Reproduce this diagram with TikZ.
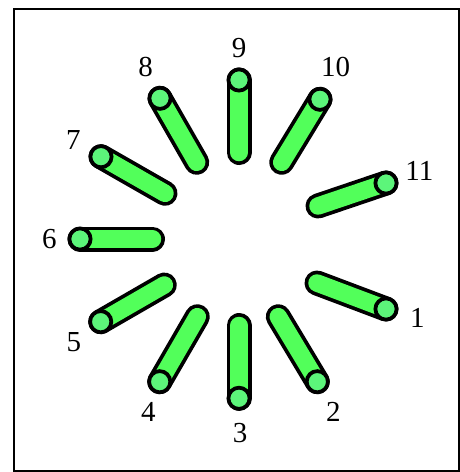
\documentclass[tikz,border=0pt]{standalone}
\usepackage{fontspec}
\setmainfont{Liberation Serif}
\definecolor{bodygreen}{RGB}{82,255,90}
\definecolor{capgreen}{RGB}{92,245,122}
\begin{document}
\begin{tikzpicture}[x=1pt,y=-1pt,
  lab/.style={font=\fontsize{29}{30}\selectfont, inner sep=0pt, anchor=center},
  frame/.style={line width=2pt},
  outline/.style={line width=25pt, line cap=round, draw=black},
  core/.style={line width=17.5pt, line cap=round, draw=bodygreen},
  endcap/.style={line width=3.75pt, draw=black, fill=capgreen}]
\useasboundingbox (0,0) rectangle (459,472);
\draw[frame] (14,8.5) rectangle (458.5,471);
% outer (o) and inner (i) cap centres
\coordinate (o1) at (386,309);   \coordinate (i1) at (317,283);
\coordinate (o2) at (317.3,381.7); \coordinate (i2) at (278.3,316.7);
\coordinate (o3) at (239,398.3); \coordinate (i3) at (239,325.5);
\coordinate (o4) at (159.7,381.7); \coordinate (i4) at (197.3,316.7);
\coordinate (o5) at (100.7,321.7); \coordinate (i5) at (164.3,285);
\coordinate (o6) at (80,239);    \coordinate (i6) at (152.5,239);
\coordinate (o7) at (101,156.7); \coordinate (i7) at (165,193.3);
\coordinate (o8) at (160,98.3);  \coordinate (i8) at (196.7,162.3);
\coordinate (o9) at (239,80);    \coordinate (i9) at (239,152.5);
\coordinate (o10) at (320,99.3); \coordinate (i10) at (281.7,162.3);
\coordinate (o11) at (386,183);  \coordinate (i11) at (318,206);
\foreach \n in {1,...,11}{
  \draw[outline] (o\n) -- (i\n);
  \draw[core] (o\n) -- (i\n);
  \draw[endcap] (o\n) circle (10.6pt);
}
\node[lab] (l1) at (417.3,318.3) {1};
\node[lab] (l2) at (333.3,411.7) {2};
\node[lab] (l3) at (240,433.3) {3};
\node[lab] (l4) at (148.3,411.7) {4};
\node[lab] (l5) at (74,341.7) {5};
\node[lab] (l6) at (49.3,239) {6};
\node[lab] (l7) at (73.3,140) {7};
\node[lab] (l8) at (145.7,66.7) {8};
\node[lab] (l9) at (239,48.3) {9};
\node[lab] (l10) at (335.7,66.7) {10};
\node[lab] (l11) at (419.3,171) {11};
\end{tikzpicture}
\end{document}
